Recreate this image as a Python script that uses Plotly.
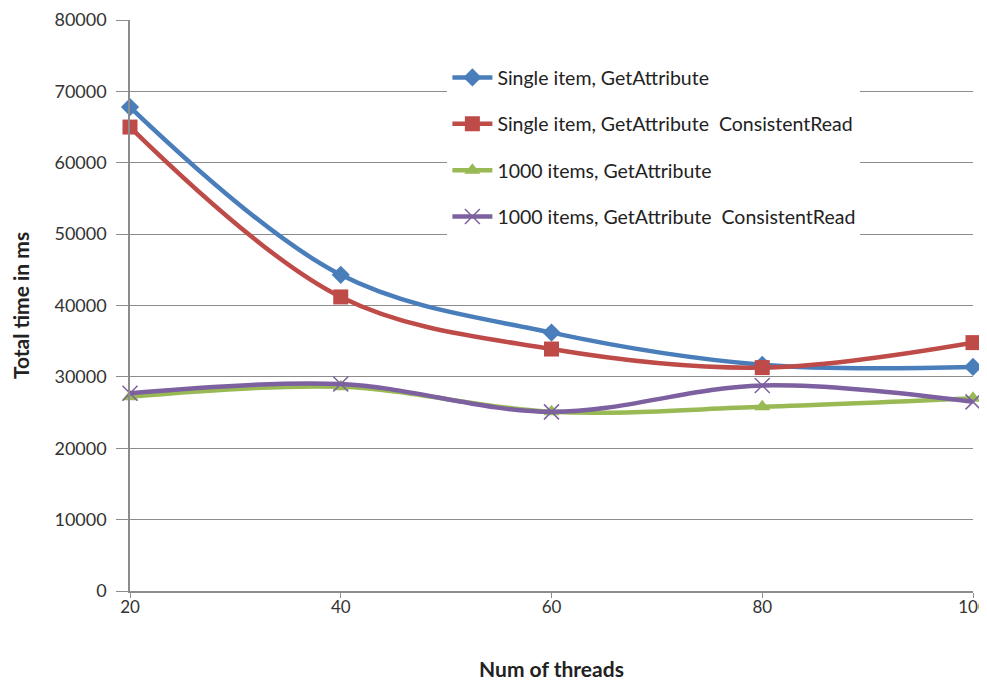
import plotly.graph_objects as go

threads = [20, 40, 60, 80, 100]
single_get = [67800, 44300, 36200, 31700, 31400]
single_get_cr = [65000, 41200, 33900, 31300, 34800]
items_get = [27200, 28600, 25100, 25800, 27000]
items_get_cr = [27700, 29000, 25100, 28800, 26500]

names = ["Single item, GetAttribute",
         "Single item, GetAttribute  ConsistentRead",
         "1000 items, GetAttribute",
         "1000 items, GetAttribute  ConsistentRead"]
series = [single_get, single_get_cr, items_get, items_get_cr]
colors = ["#4A7EBB", "#BE4B48", "#98B954", "#7D60A0"]
symbols = ["diamond", "square", "triangle-up", "x-thin-open"]
msizes = [14, 15, 14, 15]

FONT = "Lato, 'Open Sans', sans-serif"
fig = go.Figure()
for i, (nm, ys) in enumerate(zip(names, series)):
    mk = dict(symbol=symbols[i], size=msizes[i], color=colors[i])
    if symbols[i] == "x-thin-open":
        mk["line"] = dict(color=colors[i], width=1.5)
    fig.add_trace(go.Scatter(
        x=threads, y=ys, name=nm, mode="lines+markers",
        line=dict(color=colors[i], width=4.5, shape="spline", smoothing=1),
        marker=mk, legendgroup=str(i), cliponaxis=False))

# page body has an 8px default margin, so the figure is sized to fit the window
fig.update_layout(
    width=979, height=677,
    margin=dict(l=122, r=14, t=12, b=94),
    paper_bgcolor="white", plot_bgcolor="white",
    font=dict(family=FONT, color="#333333", size=17),
    showlegend=True,
    legend=dict(x=0.3765, y=0.933, xanchor="left", yanchor="top",
                bgcolor="white", font=dict(size=19.5, color="#222222"),
                tracegroupgap=18, itemwidth=40),
    xaxis=dict(range=[20, 100], tickvals=threads, showgrid=False,
               showline=True, linecolor="#8c8c8c", linewidth=1.5,
               ticks="outside", ticklen=5, tickcolor="#8c8c8c",
               ticklabelstandoff=-5,
               zeroline=False, tickfont=dict(size=17, color="#333333"),
               ticklabeloverflow="allow", automargin=False,
               title=dict(text="<b>Num of threads</b>", font=dict(size=21, color="#222222"),
                          standoff=46)),
    yaxis=dict(range=[0, 80000], dtick=10000, tickformat="d", showgrid=True,
               gridcolor="#8c8c8c", gridwidth=1.2, showline=True,
               linecolor="#8c8c8c", linewidth=1.5,
               ticks="outside", ticklen=12, tickcolor="#8c8c8c",
               ticklabelstandoff=6,
               zeroline=False, tickfont=dict(size=18, color="#333333"),
               automargin=False,
               title=dict(text="<b>Total time in ms</b>", font=dict(size=21, color="#222222"),
                          standoff=32)),
)
fig.write_html("out.html")
